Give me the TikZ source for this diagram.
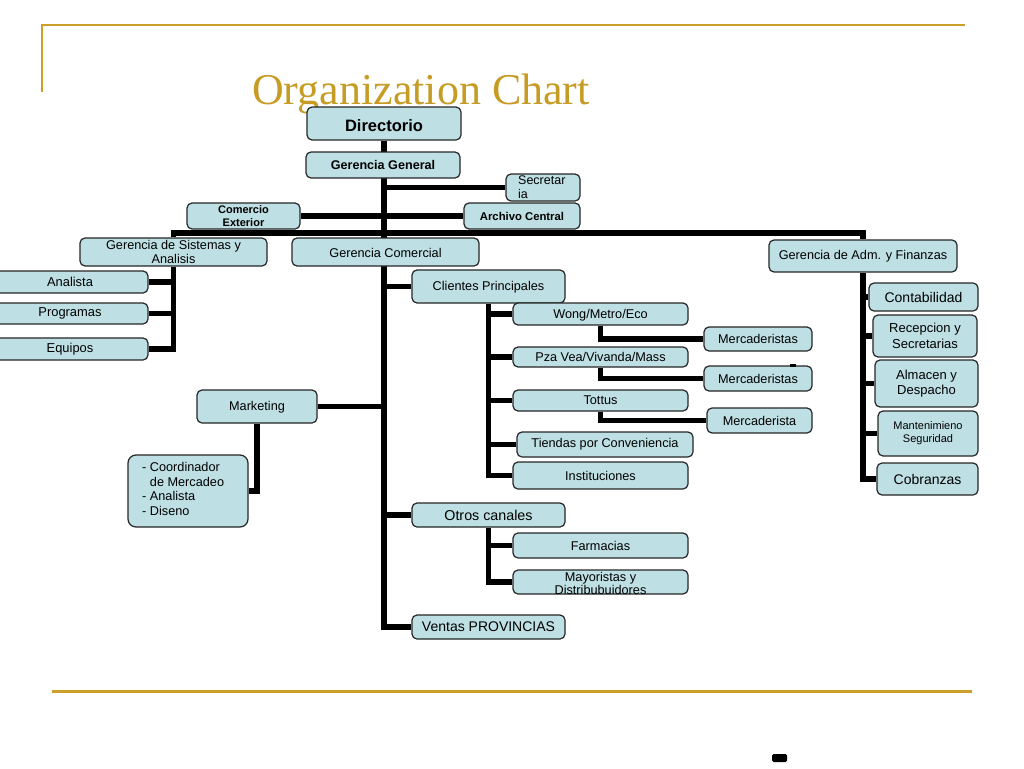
\documentclass[tikz,border=0pt]{standalone}
\usepackage{fontspec}
\setmainfont{Liberation Sans}
\newfontfamily\titlefont{Liberation Serif}
\usetikzlibrary{backgrounds}
\definecolor{boxfill}{RGB}{190,223,227}
\definecolor{gold}{RGB}{204,160,40}
\definecolor{titlegold}{RGB}{198,156,36}
\tikzset{
  box/.style={draw=black!85, line width=1.2pt, fill=boxfill, rounded corners=5pt, inner sep=0pt},
  txt/.style={inner sep=0pt, align=center, font=\fontsize{12.7}{14}\selectfont},
  fsz/.style 2 args={font=\fontsize{#1}{#2}\selectfont},
  bsz/.style 2 args={font=\bfseries\fontsize{#1}{#2}\selectfont},
  conn/.style={line width=5.5pt, black},
  goldrule/.style={gold, line width=2pt},
}
\NewDocumentCommand\bx{O{} m m m m m O{} m}{%
  \node[box,#1,minimum width={(#5)-(#3)}, minimum height={(#6)-(#4)}] (#2) at ({((#3)+(#5))/2},{((#4)+(#6))/2}) {};
  \node[txt,#7] (#2-t) at (#2.center) {#8};
}
\begin{document}
\begin{tikzpicture}[x=1pt,y=-1pt]
\useasboundingbox (0,0) rectangle (1024,768);
\clip (0,0) rectangle (1024,768);
% gold rules and title
\draw[goldrule] (42,92) -- (42,25) -- (965,25);
\draw[goldrule, line width=3pt] (52,691) -- (972,691);
\node[font=\titlefont\fontsize{44}{44}\selectfont, text=titlegold, anchor=base, inner sep=0pt] (title) at (421,104) {Organization Chart};
% boxes
\bx{dir}{307}{107}{461}{140}[bsz={16.5}{17}, yshift=-2pt]{Directorio}
\bx{gg}{306}{152}{460}{178}[bsz={12.6}{14}]{Gerencia General}
\bx{sec}{506}{174}{580}{201}[fsz={12.5}{13.5}, align=left, anchor=north west, xshift=-25pt, yshift=11.5pt]{Secretar\\ia}
\bx{com}{187}{203}{300}{229}[bsz={11}{13}]{Comercio\\Exterior}
\bx{arch}{464}{203}{580}{229}[bsz={11.3}{13}]{Archivo Central}
\bx{sis}{80}{238}{267}{266}{Gerencia de Sistemas y\\Analisis}
\bx{gc}{292}{238}{479}{266}[yshift=-1pt]{Gerencia Comercial}
\bx{adm}{769}{240}{957}{272}{Gerencia de Adm. y Finanzas}
\bx{ana}{-8}{271}{148}{293}[fsz={12.9}{14}]{Analista}
\bx{prog}{-8}{303}{148}{324}[fsz={12.9}{14}]{Programas}
\bx{equ}{-8}{338}{148}{360}[fsz={12.9}{14}]{Equipos}
\bx{cli}{412}{270}{565}{303}[yshift=-1pt]{Clientes Principales}
\bx{wong}{513}{303}{688}{325}[yshift=-1pt]{Wong/Metro/Eco}
\bx{m1}{704}{327}{812}{351}{Mercaderistas}
\bx{pza}{513}{347}{688}{367}{Pza Vea/Vivanda/Mass}
\bx{m2}{704}{366}{812}{391}{Mercaderistas}
\bx{tot}{513}{390}{688}{411}{Tottus}
\bx{m3}{707}{408}{812}{433}{Mercaderista}
\bx{tie}{517}{432}{693}{457}{Tiendas por Conveniencia}
\bx{inst}{513}{462}{688}{489}{Instituciones}
\bx{mkt}{197}{390}{317}{423}[yshift=-1pt]{Marketing}
\bx[rounded corners=8pt]{coord}{128}{455}{248}{527}[fsz={12.7}{14.5}, align=left, anchor=west, xshift=-46pt, yshift=2pt]{- Coordinador\\\phantom{- }de Mercadeo\\- Analista\\- Diseno}
\bx{otros}{412}{503}{565}{527}[fsz={14.3}{15}]{Otros canales}
\bx{farm}{513}{533}{688}{558}{Farmacias}
\bx{may}{513}{570}{688}{594}[fsz={12.7}{13.5}, yshift=-1.5pt]{Mayoristas y\\Distribubuidores}
\bx{ventas}{412}{615}{565}{639}[fsz={14}{15}]{Ventas PROVINCIAS}
\bx{cont}{869}{283}{978}{311}[fsz={14}{15}]{Contabilidad}
\bx{rec}{873}{315}{977}{357}[fsz={13}{15.5}]{Recepcion y\\Secretarias}
\bx{alm}{875}{360}{978}{407}[fsz={13}{15}]{Almacen y\\Despacho}
\bx{mant}{878}{411}{978}{456}[fsz={11}{13}]{Mantenimieno\\Seguridad}
\bx{cob}{877}{463}{978}{495}[fsz={14}{15}]{Cobranzas}
% stray marks
\fill[black, rounded corners=1.5pt] (772,754) rectangle (787,762);
\fill[black] (790,364) rectangle (796,367);
% connectors
\begin{scope}[on background layer]
\fill[white] (0,0) rectangle (1024,768);
\coordinate (hub) at (383,233);
\draw[conn] (dir.south) |- (ventas.west);
\draw[conn] (gg.south |- sec.west) -- (sec.west);
\draw[conn] (com.east) -- (arch.west);
\draw[conn] (sis.north) |- (hub) -| (adm.north);
\draw[conn] (dir.south |- cli.west) -- (cli.west);
\draw[conn] (mkt.east) -- (dir.south |- mkt.east);
\draw[conn] (dir.south |- otros.west) -- (otros.west);
\draw[conn] (sis.south) |- (equ.east);
\draw[conn] (sis.south |- ana.east) -- (ana.east);
\draw[conn] (sis.south |- prog.east) -- (prog.east);
\draw[conn] (cli.south) |- (inst.west);
\foreach \c in {wong,pza,tot,tie} \draw[conn] (cli.south |- \c.west) -- (\c.west);
\draw[conn] (wong.south) |- (m1.west);
\draw[conn] (pza.south) |- (m2.west);
\draw[conn] (tot.south) |- (m3.west);
\draw[conn] (mkt.south) |- (coord.east);
\draw[conn] (otros.south) |- (may.west);
\draw[conn] (otros.south |- farm.west) -- (farm.west);
\draw[conn] (adm.south) |- (cob.west);
\foreach \c in {cont,rec,alm,mant} \draw[conn] (adm.south |- \c.west) -- (\c.west);
\end{scope}
\end{tikzpicture}
\end{document}
